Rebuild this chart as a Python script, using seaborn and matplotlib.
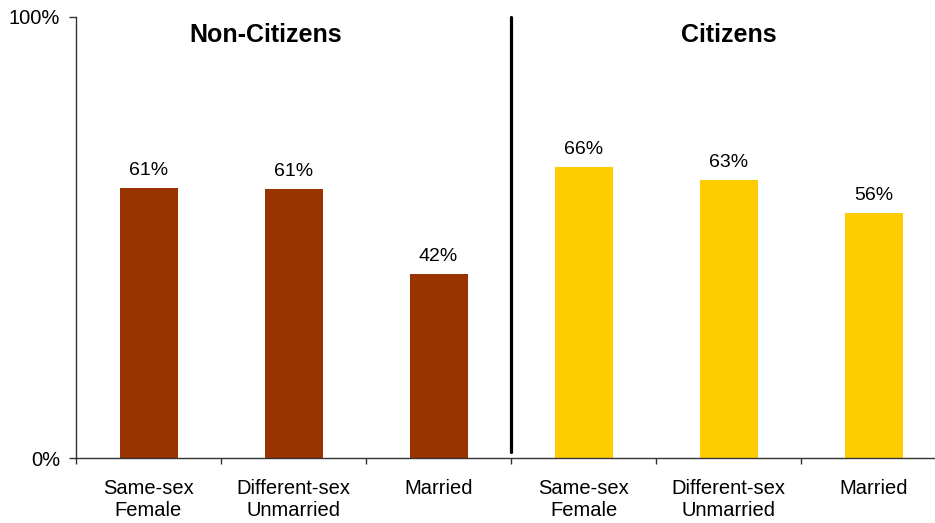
import matplotlib
matplotlib.use("Agg")
import matplotlib.pyplot as plt
import seaborn as sns
import pandas as pd

categories = ["Same-sex\nFemale", "Different-sex\nUnmarried", "Married",
              "Same-sex\nFemale ", "Different-sex\nUnmarried ", "Married "]
groups = ["Non-Citizens"] * 3 + ["Citizens"] * 3
values = [0.612, 0.61, 0.417, 0.66, 0.63, 0.556]
value_labels = ["61%", "61%", "42%", "66%", "63%", "56%"]
group_titles = ["Non-Citizens", "Citizens"]
colors = {"Non-Citizens": "#993300", "Citizens": "#FFCC00"}

sns.set_theme(style="white")
plt.rcParams["font.family"] = ["Liberation Sans", "DejaVu Sans"]
plt.rcParams["text.color"] = "black"
plt.rcParams["xtick.labelcolor"] = "black"
plt.rcParams["ytick.labelcolor"] = "black"

df = pd.DataFrame({"cat": categories, "group": groups, "value": values})

fig = plt.figure(figsize=(9.35, 5.23), dpi=100)
ax = fig.add_axes([76 / 935, 65 / 523, 870 / 935, 441 / 523])

sns.barplot(data=df, x="cat", y="value", hue="group", palette=colors,
            order=categories, dodge=False, width=0.4, legend=False,
            saturation=1, linewidth=0, ax=ax)

for cont in ax.containers:
    labs = []
    for b in cont:
        idx = min(range(len(values)), key=lambda i: abs(values[i] - b.get_height()) + 10 * abs(i - b.get_x() - b.get_width() / 2))
        labs.append(value_labels[idx])
    ax.bar_label(cont, labels=labs, padding=6.5, fontsize=14, color="black")

ax.set_xlim(-0.5, 5.5)
ax.set_ylim(0, 1)
ax.set_xlabel("")
ax.set_ylabel("")

# boundaries as major ticks, labels as minor ticks at centers
ax.set_xticks([i - 0.5 for i in range(len(categories) + 1)])
ax.set_xticklabels([""] * (len(categories) + 1))
ax.set_xticks(range(len(categories)), minor=True)
ax.set_xticklabels([c.strip() for c in categories], minor=True, fontsize=14.5,
                   linespacing=1.2)
ax.tick_params(axis="x", which="major", bottom=True, length=4, width=1, color="#333333", direction="out")
ax.tick_params(axis="x", which="minor", bottom=True, length=0, pad=15)

ax.set_yticks([0, 1])
ax.set_yticklabels(["0%", "100%"], fontsize=14.5)
ax.tick_params(axis="y", left=True, length=5, width=1, color="#333333", direction="out", pad=6.5)

for s in ["top", "right"]:
    ax.spines[s].set_visible(False)
for s in ["left", "bottom"]:
    ax.spines[s].set_color("#333333")
    ax.spines[s].set_linewidth(1)

# divider between groups
ax.plot([2.5, 2.5], [0.014, 1.0], color="black", lw=2.3, clip_on=False)

ax.text(0.807, 0.96, group_titles[0], ha="center", va="center", fontsize=18, fontweight="bold")
ax.text(4.0, 0.96, group_titles[1], ha="center", va="center", fontsize=18, fontweight="bold")

fig.savefig("out.png", dpi=100, facecolor="white")
